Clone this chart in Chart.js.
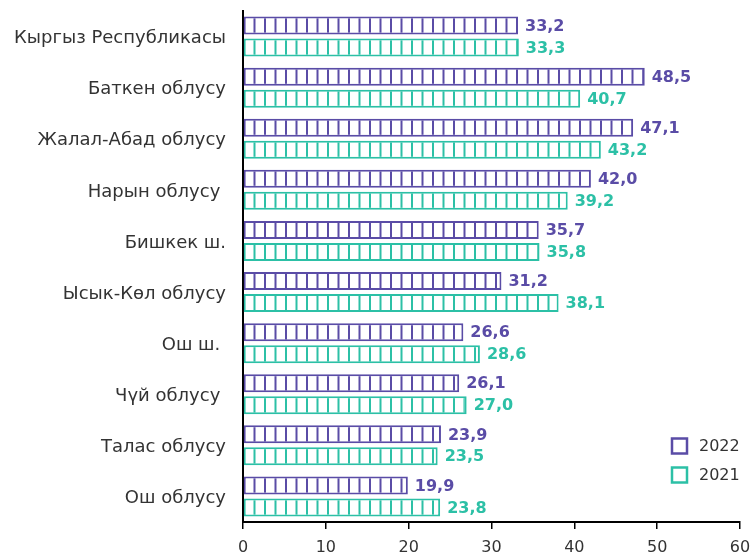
<!DOCTYPE html>
<html><head><meta charset="utf-8">
<script src="https://cdn.jsdelivr.net/npm/chart.js@4.4.0/dist/chart.umd.min.js"></script>
<style>html,body{margin:0;padding:0;background:#fff}#wrap{width:754px;height:553px;position:relative}</style>
</head><body><div id="wrap"><canvas id="c" width="754" height="553"></canvas></div>
<script>
const categories = ["Кыргыз Республикасы","Баткен облусу","Жалал-Абад облусу","Нарын облусу ","Бишкек ш.","Ысык-Көл облусу","Ош ш. ","Чүй облусу ","Талас облусу","Ош облусу"];
const values2022 = [33.2,48.5,47.1,42.0,35.7,31.2,26.6,26.1,23.9,19.9];
const values2021 = [33.3,40.7,43.2,39.2,35.8,38.1,28.6,27.0,23.5,23.8];
const seriesNames = ["2022","2021"];
const xTicks = [0,10,20,30,40,50,60];

const PURPLE = "#5a4ca6", TEAL = "#2cc0a6";
const FONT = "'DejaVu Sans', sans-serif";

function makePattern(color){
  const pc = document.createElement('canvas');
  pc.width = 21; pc.height = 10;
  const g = pc.getContext('2d');
  g.fillStyle = '#fff'; g.fillRect(0,0,21,10);
  g.fillStyle = color; g.fillRect(0,0,2,10); g.fillRect(10.5,0,2,10);
  const ctx = document.getElementById('c').getContext('2d');
  const p = ctx.createPattern(pc,'repeat');
  try { p.setTransform(new DOMMatrix().translate(243,0)); } catch(e){}
  return p;
}

const valueLabels = {
  id:'valueLabels',
  afterDatasetsDraw(chart){
    const ctx = chart.ctx;
    ctx.save();
    ctx.font = "bold 16px " + FONT;
    ctx.textBaseline = 'middle';
    ctx.textAlign = 'left';
    chart.data.datasets.forEach((ds,i)=>{
      const meta = chart.getDatasetMeta(i);
      meta.data.forEach((bar,j)=>{
        ctx.fillStyle = ds.borderColor;
        ctx.fillText(ds.data[j].toFixed(1).replace('.',','), bar.x + 7, bar.y + 1);
      });
    });
    ctx.restore();
  }
};

const customLegend = {
  id:'customLegend',
  afterDraw(chart){
    const ctx = chart.ctx;
    ctx.save();
    ctx.font = "16px " + FONT;
    ctx.textBaseline = 'middle';
    ctx.textAlign = 'left';
    chart.data.datasets.forEach((ds,i)=>{
      const y = 446 + i*29;
      ctx.strokeStyle = ds.borderColor;
      ctx.lineWidth = 2.5;
      ctx.fillStyle = '#fff';
      ctx.fillRect(672, y-7.5, 15, 15);
      ctx.strokeRect(672, y-7.5, 15, 15);
      ctx.fillStyle = '#333';
      ctx.fillText(ds.label, 699, y+1);
    });
    ctx.restore();
  }
};

new Chart(document.getElementById('c'), {
  type:'bar',
  data:{
    labels: categories,
    datasets:[
      {label: seriesNames[0], data: values2022, backgroundColor: makePattern(PURPLE), borderColor: PURPLE, borderWidth: 2, borderSkipped: false, barPercentage: 0.82, categoryPercentage: 0.86},
      {label: seriesNames[1], data: values2021, backgroundColor: makePattern(TEAL), borderColor: TEAL, borderWidth: 2, borderSkipped: false, barPercentage: 0.82, categoryPercentage: 0.86}
    ]
  },
  options:{
    indexAxis:'y',
    responsive:false,
    animation:false,
    layout:{padding:{top:11, right:14, left:0, bottom:0}},
    plugins:{legend:{display:false}, tooltip:{enabled:false}},
    scales:{
      x:{
        min:0, max:60,
        afterBuildTicks(s){ s.ticks = xTicks.map(v=>({value:v})); },
        grid:{drawOnChartArea:false, drawTicks:true, tickLength:7, color:'#000', lineWidth:1.5},
        border:{display:true, color:'#000', width:2},
        ticks:{color:'#333', font:{family:FONT, size:16}, padding:9, maxRotation:0},
        afterFit(s){ s.height = 31; s.paddingLeft = 0; s.paddingRight = 0; }
      },
      y:{
        grid:{display:false, drawTicks:false},
        border:{display:true, color:'#000', width:2},
        ticks:{color:'#333', font:{family:FONT, size:18}, padding:17, autoSkip:false, labelOffset:2},
        afterFit(s){ s.width = 243; s.paddingTop = 0; s.paddingBottom = 0; }
      }
    }
  },
  plugins:[valueLabels, customLegend]
});
</script></body></html>
